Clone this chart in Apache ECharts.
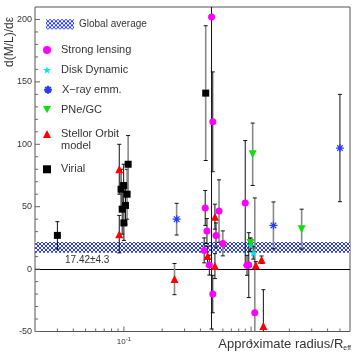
<!DOCTYPE html>
<html><head><meta charset="utf-8">
<script src="https://cdn.jsdelivr.net/npm/echarts@6/dist/echarts.min.js"></script>
<style>html,body{margin:0;padding:0;background:#fff}#c{width:353px;height:354px}</style>
</head><body><div id="c"></div>
<script>
// ---- data ----
const xMin = 0.02, xMax = 6, yMin = -50, yMax = 210;
const globalAvg = 17.42, globalErr = 4.3;

const virialX   = [0.03, 0.095, 0.0996, 0.106, 0.103, 0.097, 0.1, 0.108, 0.44];
const virialY   = [27, 64, 67, 60, 51, 48, 37, 84, 141];
const virialErr = [11, 16, 17, 20, 15, 20, 14, 23, 54];

const lensX   = [0.489, 0.5, 0.436, 0.56, 0.45, 0.53, 0.6, 0.428, 0.47, 0.5, 0.9, 0.96, 0.93, 1.07];
const lensY   = [202, 118, 49, 46.5, 30.5, 27, 20.6, 15, 3.2, -20, 53, 3.2, 3, -35];
const lensErr = [250, 40, 14, 25, 10, 10, 10, 10, 8, 15, 50, 26, 8, 92];

const stellarX   = [0.092, 0.092, 0.25, 0.52, 0.455, 0.52, 1.09, 1.21, 1.25];
const stellarY   = [80, 28, -8, 42, 10.4, 2.4, 3, 7.5, -45.5];
const stellarErr = [20, 15, 12.5, 10, 8, 10, 3, 3, 29];

const diskX   = [0.995, 1.04];
const diskY   = [19, 13];
const diskErr = [5, 5];

const pneX   = [1.03, 2.5, 0.99];
const pneY   = [92, 32, 21];
const pneErr = [25, 16, 4];

const xrayX   = [0.26, 1.5, 5.0];
const xrayY   = [40, 35, 97];
const xrayErr = [12.7, 18.8, 43];

const yMajorTicks = [-50, 0, 50, 100, 150, 200];
const yMinorTicks = [-40,-30,-20,-10,10,20,30,40,60,70,80,90,110,120,130,140,160,170,180,190];
const xMajorTicks = [0.1, 1];
const xMinorTicks = [0.03,0.04,0.05,0.06,0.07,0.08,0.09,0.2,0.3,0.4,0.5,0.6,0.7,0.8,0.9,2,3,4,5];

// ---- styling helpers ----
const grayBars = { Virial:[3,7,8], Lens:[3,6,13], Stellar:[2], PNe:[0,1], Xray:[0,1], Disk:[] };

const pc = document.createElement('canvas'); pc.width = 4; pc.height = 4;
const g = pc.getContext('2d'); g.fillStyle = '#ffffff'; g.fillRect(0,0,4,4); g.fillStyle = '#2b3df2';
[[0,0],[1,1],[2,2],[3,3],[3,0],[2,1],[1,2],[0,3]].forEach(p => g.fillRect(p[0],p[1],1,1));
const hatch = { image: pc, repeat: 'repeat' };

function pts(xs, ys){ return xs.map((x,i)=>[x, ys[i]]); }
function errSeries(key, xs, ys, es){
  return {
    type:'custom', clip:true, z:3, silent:true,
    data: xs.map((x,i)=>[x, ys[i], es[i], grayBars[key].indexOf(i) >= 0 ? 1 : 0]),
    encode:{x:0, y:1},
    renderItem(params, api){
      const x = api.value(0), y = api.value(1), e = api.value(2), gr = api.value(3);
      const t = api.coord([x, y + e]), b = api.coord([x, y - e]);
      const col = gr ? '#8a8a8a' : '#111', w = gr ? 1.6 : 1, c = 2;
      return {type:'group', children:[
        {type:'line', shape:{x1:t[0],y1:t[1],x2:b[0],y2:b[1]}, style:{stroke:col, lineWidth:w}},
        {type:'line', shape:{x1:t[0]-c,y1:t[1],x2:t[0]+c,y2:t[1]}, style:{stroke:'#111', lineWidth:1}},
        {type:'line', shape:{x1:b[0]-c,y1:b[1],x2:b[0]+c,y2:b[1]}, style:{stroke:'#111', lineWidth:1}}
      ]};
    }
  };
}

const tickData = []
  .concat(yMajorTicks.map(v=>[xMin, v, 0]))
  .concat(yMinorTicks.map(v=>[xMin, v, 1]))
  .concat(xMajorTicks.map(v=>[v, yMin, 2]))
  .concat(xMinorTicks.map(v=>[v, yMin, 3]));

const starPath = 'path://M5,0L6.2,3.6L10,3.6L6.9,5.8L8.1,9.5L5,7.2L1.9,9.5L3.1,5.8L0,3.6L3.8,3.6Z';
const asteriskPath = 'path://M0,5L10,5M5,0L5,10M1.5,1.5L8.5,8.5M8.5,1.5L1.5,8.5';
const downTriPath = 'path://M0,0L10,0L5,9Z';

const FONT = 'Liberation Sans, Arial, sans-serif';
function leg(name, top){
  return {data:[name], left:43, top:top, itemWidth:8, itemHeight:8, padding:0,
    selectedMode:false, textStyle:{fontSize:11, lineHeight:12, color:'#333', fontFamily:FONT, padding:[0,0,0,5]}};
}

const chart = echarts.init(document.getElementById('c'));
chart.setOption({
  animation:false,
  backgroundColor:'#fff',
  grid:{left:35, top:7, right:2, bottom:22.5, show:true, borderColor:'#555', borderWidth:1, backgroundColor:'transparent'},
  xAxis:{type:'log', logBase:10, min:xMin, max:xMax,
    axisLine:{show:false}, axisTick:{show:false}, splitLine:{show:false}, minorSplitLine:{show:false},
    axisLabel:{margin:5, fontSize:8, color:'#333', fontFamily:FONT,
      formatter(v){ if (Math.abs(v-0.1)<1e-6) return '{b|10}{s|-1}'; if (Math.abs(v-1)<1e-6) return '{b|1}'; return ''; },
      rich:{b:{fontSize:8, color:'#333', lineHeight:10}, s:{fontSize:6, color:'#333', verticalAlign:'top'}}}
  },
  yAxis:{type:'value', min:yMin, max:yMax, interval:50,
    axisLine:{show:false}, axisTick:{show:false}, splitLine:{show:false},
    axisLabel:{margin:3, fontSize:9, color:'#333', fontFamily:FONT,
      formatter(v){ return v > 200 ? '' : String(v); }}
  },
  legend:[
    {data:['Global average'], left:46, top:18.3, itemWidth:28, itemHeight:10, icon:'rect', padding:0, selectedMode:false,
      textStyle:{fontSize:10, lineHeight:12, color:'#333', fontFamily:FONT}},
    leg('Strong lensing', 44),
    leg('Disk Dynamic', 64),
    leg('X\u2212ray emm.', 83.7),
    leg('PNe/GC', 103.7),
    leg('Stellor Orbit', 128),
    leg('Virial', 163.3)
  ],
  graphic:[
    {type:'text', left:61, top:140, style:{text:'model', fontSize:11, fill:'#333', fontFamily:FONT}},
    {type:'text', left:65, top:255, style:{text:'17.42\u00b14.3', fontSize:10, fill:'#333', fontFamily:FONT}},
    {type:'text', x:10, y:67, rotation:Math.PI/2, style:{text:'d(M/L)/d\u03b5', fontSize:12, fill:'#333',
      fontFamily:FONT, align:'left', verticalAlign:'middle'}},
    {type:'text', right:2, top:338, style:{text:'{a|Approximate radius/R}{s|eff}', fill:'#333',
      rich:{a:{fontSize:13, fontFamily:FONT, fill:'#333', lineHeight:15}, s:{fontSize:7, fontFamily:FONT, fill:'#333', verticalAlign:'bottom'}}}}
  ],
  series:[
    {name:'Global average', type:'custom', z:1, silent:true, itemStyle:{color:hatch},
      data:[[xMin, globalAvg-globalErr, xMax, globalAvg+globalErr]], encode:{x:[0,2], y:[1,3]},
      renderItem(params, api){
        const p1 = api.coord([api.value(0), api.value(3)]), p2 = api.coord([api.value(2), api.value(1)]);
        return {type:'rect', shape:{x:p1[0], y:p1[1], width:p2[0]-p1[0], height:p2[1]-p1[1]}, style:{fill:hatch}};
      },
      markLine:{silent:true, symbol:'none', label:{show:false}, z:2,
        lineStyle:{color:'#000', width:1.2, type:'solid'}, data:[{yAxis:0}]}
    },
    {type:'custom', z:2, silent:true, data:tickData, encode:{x:0, y:1},
      renderItem(params, api){
        const k = api.value(2), p = api.coord([api.value(0), api.value(1)]);
        const len = (k===0||k===2) ? 5 : 3;
        const sh = k < 2 ? {x1:p[0], y1:p[1], x2:p[0]+len, y2:p[1]} : {x1:p[0], y1:p[1], x2:p[0], y2:p[1]-len};
        return {type:'line', shape:sh, style:{stroke:'#666', lineWidth:1}};
      }
    },
    errSeries('Virial', virialX, virialY, virialErr),
    errSeries('Lens', lensX, lensY, lensErr),
    errSeries('Stellar', stellarX, stellarY, stellarErr),
    errSeries('Disk', diskX, diskY, diskErr),
    errSeries('PNe', pneX, pneY, pneErr),
    errSeries('Xray', xrayX, xrayY, xrayErr),
    {name:'Virial', type:'scatter', z:5, symbol:'rect', symbolSize:7, itemStyle:{color:'#000', opacity:1}, data:pts(virialX, virialY)},
    {name:'Strong lensing', type:'scatter', z:5, symbol:'circle', symbolSize:7, itemStyle:{color:'#ff00ff', opacity:1}, data:pts(lensX, lensY)},
    {name:'Stellor Orbit', type:'scatter', z:5, symbol:'triangle', symbolSize:8, itemStyle:{color:'#ff0000', opacity:1}, data:pts(stellarX, stellarY)},
    {name:'Disk Dynamic', type:'scatter', z:5, symbol:starPath, symbolSize:8, itemStyle:{color:'#00e5e5', opacity:1}, data:pts(diskX, diskY)},
    {name:'PNe/GC', type:'scatter', z:5, symbol:downTriPath, symbolSize:8, itemStyle:{color:'#11dd11', opacity:1}, data:pts(pneX, pneY)},
    {name:'X\u2212ray emm.', type:'scatter', z:5, symbol:asteriskPath, symbolSize:8,
      itemStyle:{color:'rgba(0,0,0,0)', borderColor:'#2b3df2', borderWidth:1.2, opacity:1}, data:pts(xrayX, xrayY)}
  ]
});
</script></body></html>
